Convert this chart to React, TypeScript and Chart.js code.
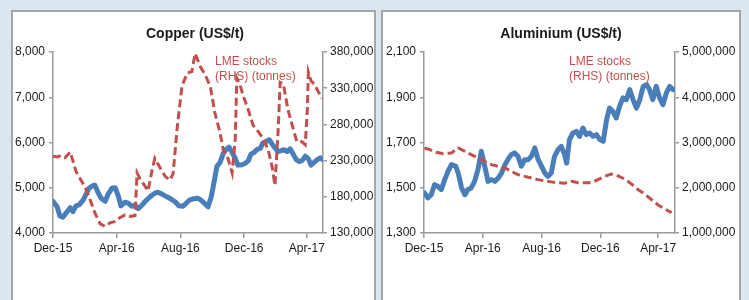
import React, { useEffect, useRef } from "react";
import { Chart, registerables } from "chart.js";

Chart.register(...registerables);

// x values are days since 1 Dec 2015
const tickDays = [0, 122, 244, 366, 486];
const tickLabels = ["Dec-15", "Apr-16", "Aug-16", "Dec-16", "Apr-17"];

const copperPriceDays = [0, 8, 13, 19, 25, 33, 38, 44, 50, 58, 63, 69, 75, 80, 86, 92, 100, 105, 113, 119, 125, 130, 138, 144, 151, 157, 163, 169, 176, 182, 190, 195, 201, 209, 218, 226, 234, 241, 249, 257, 262, 270, 276, 282, 287, 293, 297, 303, 308, 314, 320, 326, 331, 337, 343, 349, 354, 362, 368, 374, 379, 385, 391, 397, 402, 408, 414, 420, 425, 431, 437, 443, 448, 454, 460, 466, 471, 477, 483, 489, 494, 500, 506, 512, 517];
const copperPrice = [4700, 4580, 4380, 4350, 4440, 4560, 4470, 4600, 4620, 4730, 4850, 4990, 5040, 5060, 4900, 4770, 4700, 4850, 4990, 5000, 4820, 4600, 4680, 4660, 4590, 4620, 4540, 4600, 4690, 4760, 4840, 4880, 4900, 4860, 4800, 4750, 4690, 4600, 4590, 4680, 4730, 4760, 4770, 4740, 4690, 4620, 4580, 4800, 5100, 5480, 5560, 5760, 5840, 5900, 5780, 5650, 5500, 5510, 5540, 5600, 5740, 5780, 5850, 5870, 5990, 6020, 6060, 5960, 5880, 5800, 5820, 5840, 5800, 5860, 5740, 5620, 5580, 5600, 5700, 5640, 5500, 5560, 5620, 5660, 5620];

const copperStockDays = [0, 8, 15, 23, 33, 38, 44, 52, 61, 71, 80, 90, 100, 109, 119, 128, 138, 148, 157, 161, 167, 176, 182, 190, 195, 205, 215, 224, 230, 238, 247, 257, 266, 272, 282, 291, 301, 310, 320, 326, 335, 343, 349, 352, 358, 364, 374, 383, 393, 402, 412, 420, 425, 431, 435, 441, 450, 458, 467, 477, 483, 487, 489, 494, 500, 508, 515];
const copperStocks = [236000, 235000, 237000, 234000, 242000, 230000, 215000, 205000, 194000, 176000, 158000, 143000, 139000, 144000, 146000, 151000, 155000, 153000, 154000, 213000, 204000, 195000, 188000, 218000, 233000, 220000, 208000, 203000, 212000, 277000, 333000, 351000, 353000, 378000, 360000, 349000, 333000, 296000, 268000, 245000, 233000, 213000, 260000, 344000, 335000, 320000, 300000, 279000, 270000, 261000, 245000, 220000, 196000, 270000, 338000, 336000, 300000, 279000, 256000, 256000, 252000, 300000, 352000, 340000, 336000, 325000, 316000];

const aluPriceDays = [1, 8, 15, 22, 29, 36, 43, 50, 57, 66, 71, 78, 85, 91, 98, 105, 112, 119, 126, 133, 140, 147, 154, 161, 168, 174, 181, 188, 195, 202, 209, 216, 223, 230, 237, 244, 251, 257, 264, 271, 278, 285, 292, 296, 302, 309, 316, 323, 330, 337, 344, 351, 358, 365, 372, 379, 385, 392, 399, 406, 413, 420, 427, 434, 441, 448, 455, 462, 468, 475, 482, 489, 496, 503, 510, 517];
const aluPrice = [1477, 1455, 1469, 1514, 1506, 1492, 1536, 1573, 1602, 1595, 1565, 1499, 1469, 1492, 1499, 1528, 1580, 1661, 1595, 1528, 1536, 1528, 1543, 1565, 1602, 1624, 1646, 1654, 1639, 1595, 1624, 1624, 1639, 1676, 1624, 1595, 1565, 1550, 1565, 1639, 1668, 1683, 1646, 1609, 1713, 1742, 1749, 1727, 1764, 1735, 1742, 1727, 1735, 1713, 1705, 1801, 1852, 1838, 1808, 1860, 1897, 1889, 1934, 1889, 1852, 1889, 1948, 1956, 1934, 1889, 1948, 1897, 1867, 1919, 1948, 1934];

const aluStockDays = [1, 12, 26, 40, 57, 71, 85, 98, 112, 126, 140, 154, 168, 181, 195, 209, 223, 237, 251, 264, 278, 292, 306, 320, 334, 347, 361, 375, 389, 403, 417, 431, 444, 458, 472, 486, 500, 514];
const aluStocks = [2878000, 2842000, 2783000, 2753000, 2768000, 2878000, 2804000, 2731000, 2657000, 2584000, 2510000, 2473000, 2436000, 2363000, 2289000, 2252000, 2215000, 2179000, 2150000, 2130000, 2110000, 2100000, 2142000, 2110000, 2110000, 2110000, 2179000, 2252000, 2300000, 2260000, 2190000, 2080000, 1960000, 1860000, 1740000, 1620000, 1530000, 1450000];

const noteLines = ["LME stocks", "(RHS) (tonnes)"];

const BLUE = "#4a7ebb";
const RED = "#c0504d";
const AXIS = "#9a9a9a";
const TEXT = "#1a1a1a";
const FONT = "'Liberation Sans', Arial, sans-serif";

type Cfg = {
  title: string;
  titleX: number;
  noteX: number;
  priceDays: number[];
  price: number[];
  stockDays: number[];
  stocks: number[];
  leftMin: number;
  leftMax: number;
  leftStep: number;
  rightMin: number;
  rightMax: number;
  rightStep: number;
  xMax: number;
  leftW: number;
  rightW: number;
  top: number;
  bottomH: number;
};

function makeChart(canvas: HTMLCanvasElement, c: Cfg) {
  const fmt = (v: any) => Number(v).toLocaleString("en-US");
  const tickFont = { family: FONT, size: 12 };
  const textPlugin = {
    id: "panelText",
    afterDraw(chart: any) {
      const ctx = chart.ctx;
      ctx.save();
      ctx.fillStyle = TEXT;
      ctx.font = `bold 14px ${FONT}`;
      ctx.textAlign = "center";
      ctx.textBaseline = "middle";
      ctx.fillText(c.title, c.titleX, 34);
      ctx.fillStyle = RED;
      ctx.font = `12px ${FONT}`;
      ctx.textAlign = "left";
      ctx.fillText(noteLines[0], c.noteX, 62);
      ctx.fillText(noteLines[1], c.noteX, 76.5);
      ctx.restore();
    },
  };
  return new Chart(canvas, {
    type: "line",
    data: {
      datasets: [
        {
          label: "LME stocks",
          data: c.stockDays.map((d, i) => ({ x: d, y: c.stocks[i] })),
          yAxisID: "y1",
          borderColor: RED,
          borderWidth: 3,
          borderDash: [8, 4],
          pointRadius: 0,
          tension: 0,
        },
        {
          label: "Price",
          data: c.priceDays.map((d, i) => ({ x: d, y: c.price[i] })),
          yAxisID: "y",
          borderColor: BLUE,
          borderWidth: 5,
          borderJoinStyle: "round",
          borderCapStyle: "round",
          pointRadius: 0,
          tension: 0,
        },
      ],
    },
    options: {
      responsive: false,
      animation: false,
      events: [],
      layout: { padding: { top: c.top, left: 0, right: 0, bottom: 0 } },
      plugins: { legend: { display: false }, tooltip: { enabled: false }, title: { display: false } },
      scales: {
        x: {
          type: "linear",
          min: 0,
          max: c.xMax,
          afterBuildTicks: (s: any) => {
            s.ticks = tickDays.map((v) => ({ value: v }));
          },
          afterFit: (s: any) => {
            s.height = c.bottomH;
          },
          ticks: {
            autoSkip: false,
            maxRotation: 0,
            padding: 3,
            color: TEXT,
            font: tickFont,
            callback: (v: any) => tickLabels[tickDays.indexOf(Number(v))] ?? "",
          },
          grid: { drawOnChartArea: false, drawTicks: true, tickLength: 5, color: AXIS, lineWidth: 1.5 },
          border: { display: true, color: AXIS, width: 1.5 },
        },
        y: {
          type: "linear",
          position: "left",
          min: c.leftMin,
          max: c.leftMax,
          afterFit: (s: any) => {
            s.width = c.leftW;
          },
          ticks: { stepSize: c.leftStep, padding: 4, color: TEXT, font: tickFont, callback: fmt },
          grid: { drawOnChartArea: false, drawTicks: true, tickLength: 4, color: AXIS, lineWidth: 1.5 },
          border: { display: true, color: AXIS, width: 1.5 },
        },
        y1: {
          type: "linear",
          position: "right",
          min: c.rightMin,
          max: c.rightMax,
          afterFit: (s: any) => {
            s.width = c.rightW;
          },
          ticks: { stepSize: c.rightStep, padding: 3, color: TEXT, font: tickFont, callback: fmt },
          grid: { drawOnChartArea: false, drawTicks: true, tickLength: 4, color: AXIS, lineWidth: 1.5 },
          border: { display: true, color: AXIS, width: 1.5 },
        },
      },
    },
    plugins: [textPlugin],
  } as any);
}

export default function App() {
  const leftRef = useRef<HTMLCanvasElement>(null);
  const rightRef = useRef<HTMLCanvasElement>(null);

  useEffect(() => {
    const a = makeChart(leftRef.current!, {
      title: "Copper (US$/t)",
      titleX: 195,
      noteX: 215,
      priceDays: copperPriceDays,
      price: copperPrice,
      stockDays: copperStockDays,
      stocks: copperStocks,
      leftMin: 4000,
      leftMax: 8000,
      leftStep: 1000,
      rightMin: 130000,
      rightMax: 380000,
      rightStep: 50000,
      xMax: 517,
      leftW: 53,
      rightW: 55,
      top: 52,
      bottomH: 67,
    });
    const b = makeChart(rightRef.current!, {
      title: "Aluminium (US$/t)",
      titleX: 183,
      noteX: 191,
      priceDays: aluPriceDays,
      price: aluPrice,
      stockDays: aluStockDays,
      stocks: aluStocks,
      leftMin: 1300,
      leftMax: 2100,
      leftStep: 200,
      rightMin: 1000000,
      rightMax: 5000000,
      rightStep: 1000000,
      xMax: 521,
      leftW: 46,
      rightW: 74,
      top: 52,
      bottomH: 67,
    });
    return () => {
      a.destroy();
      b.destroy();
    };
  }, []);

  const panel = (left: number, width: number): React.CSSProperties => ({
    position: "absolute",
    left,
    top: 10,
    width,
    height: 310,
    boxSizing: "border-box",
    border: "2.5px solid #a6a6a6",
    background: "#ffffff",
  });

  return (
    <div
      style={{
        position: "fixed",
        left: 0,
        top: 0,
        width: 749,
        height: 300,
        overflow: "hidden",
        background: "#dce6f1",
      }}
    >
      <div style={panel(11, 365)} />
      <div style={panel(381, 360)} />
      <canvas ref={leftRef} width={378} height={300} style={{ position: "absolute", left: 0, top: 0 }} />
      <canvas ref={rightRef} width={371} height={300} style={{ position: "absolute", left: 378, top: 0 }} />
    </div>
  );
}
